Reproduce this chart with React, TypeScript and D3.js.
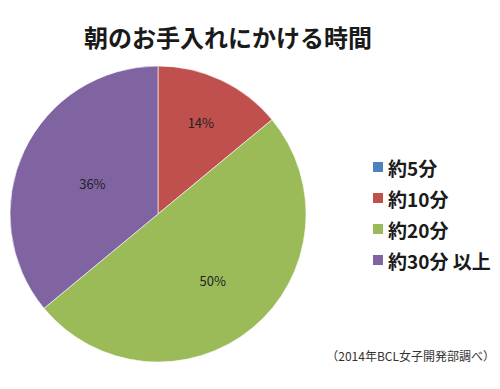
import React, {useRef, useEffect} from "react";
import * as d3 from "d3";

const categories = ["約5分", "約10分", "約20分", "約30分 以上"];
const shares = [0, 14, 50, 36];
const sliceColors = ["#4F81BD", "#C0504D", "#9BBB59", "#8064A2"];
const title = "朝のお手入れにかける時間";
const source = "（2014年BCL女子開発部調べ）";

// label distance from centre as a fraction of radius (Excel "best fit" look)
const labelRadius = [0.6, 0.68, 0.58, 0.49];

const FONT = "'Noto Sans CJK JP', 'Noto Sans', sans-serif";

export default function App() {
  const svgRef = useRef<SVGSVGElement>(null);

  useEffect(() => {
    if (!svgRef.current) return;
    const svg = d3.select(svgRef.current);
    svg.selectAll("*").remove();

    const cx = 158;
    const cy = 214;
    const radius = 148;

    // Title
    svg
      .append("text")
      .attr("x", 228)
      .attr("y", 36)
      .attr("text-anchor", "middle")
      .attr("dominant-baseline", "central")
      .style("font-family", FONT)
      .style("font-size", "24px")
      .style("font-weight", "bold")
      .style("fill", "#1a1a1a")
      .text(title);

    // Pie
    const pie = d3
      .pie<number>()
      .sort(null)
      .value((d) => d);
    const arcs = pie(shares);
    const arc = d3.arc<d3.PieArcDatum<number>>().innerRadius(0).outerRadius(radius);

    const g = svg.append("g").attr("transform", `translate(${cx},${cy})`);

    g.selectAll("path")
      .data(arcs)
      .join("path")
      .attr("d", arc)
      .attr("fill", (d, i) => sliceColors[i])
      .attr("stroke", "#ffffff")
      .attr("stroke-width", 0.6);

    g.selectAll(".pct")
      .data(arcs.filter((d) => d.value > 0))
      .join("text")
      .attr("class", "pct")
      .attr("transform", (d) => {
        const r = radius * labelRadius[d.index];
        const c = d3.arc<d3.PieArcDatum<number>>().innerRadius(r).outerRadius(r).centroid(d);
        return `translate(${c})`;
      })
      .attr("text-anchor", "middle")
      .attr("dominant-baseline", "central")
      .style("font-family", FONT)
      .style("font-size", "13px")
      .style("fill", "#222")
      .text((d) => `${d.value}%`);

    // Legend
    const legendY = d3
      .scalePoint<string>()
      .domain(categories)
      .range([167, 260]);

    const legend = svg
      .append("g")
      .selectAll("g")
      .data(categories)
      .join("g")
      .attr("transform", (d) => `translate(373,${legendY(d)})`);

    legend
      .append("rect")
      .attr("x", 0)
      .attr("y", -5)
      .attr("width", 10)
      .attr("height", 10)
      .attr("fill", (d, i) => sliceColors[i]);

    legend
      .append("text")
      .attr("x", 15)
      .attr("y", 0)
      .attr("dominant-baseline", "central")
      .style("font-family", FONT)
      .style("font-size", "19px")
      .style("font-weight", "bold")
      .style("fill", "#1a1a1a")
      .text((d) => d);

    // Source note
    svg
      .append("text")
      .attr("x", 495)
      .attr("y", 355)
      .attr("text-anchor", "end")
      .attr("dominant-baseline", "central")
      .style("font-family", FONT)
      .style("font-size", "12px")
      .style("fill", "#333")
      .text(source);

    return () => {
      d3.select(svgRef.current).selectAll("*").remove();
    };
  }, []);

  return (
    <div style={{position: "absolute", left: 0, top: 0}}>
      <svg ref={svgRef} width={500} height={389} style={{display: "block", background: "#fff"}} />
    </div>
  );
}
